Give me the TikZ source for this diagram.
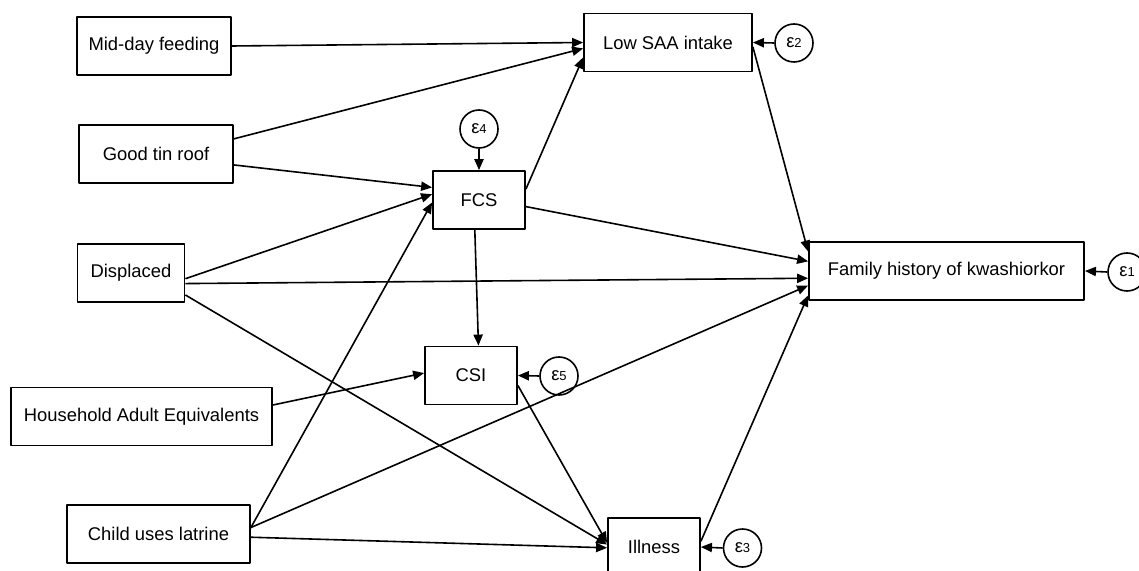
\documentclass[tikz,border=0pt]{standalone}
\usepackage{fontspec}
\setmainfont{Liberation Sans}
\usetikzlibrary{arrows.meta}
\begin{document}
\begin{tikzpicture}[x=0.5pt,y=-0.5pt,>={Triangle[length=5.5pt,width=4.6pt]},
		font=\fontsize{9.2}{11}\selectfont, line join=round,
		var/.style={draw,line width=0.9pt,inner sep=0pt,minimum height=29pt},
		err/.style={draw,circle,line width=0.8pt,minimum size=19pt,inner sep=0pt},
		link/.style={->,line width=0.8pt}]
		\def\sub#1{{\fontsize{6.5}{7}\selectfont#1}} % chỉ số
		\useasboundingbox (0,0) rectangle (1139,571);
		% biến ngoại sinh
		\node[var,minimum width=77pt] (mid) at (154,46) {Mid-day feeding};
		\node[var,minimum width=77pt] (roof) at (156,154) {Good tin roof};
		\node[var,minimum width=53.5pt] (disp) at (131,273) {Displaced};
		\node[var,minimum width=130.5pt] (hae) at (141.5,416.5) {Household Adult Equivalents};
		\node[var,minimum width=91.5pt] (latr) at (158.5,534) {Child uses latrine};
		% biến nội sinh
		\node[var,minimum width=84pt] (saa) at (668,42.5) {Low SAA intake};
		\node[var,minimum width=46pt] (fcs) at (479,200) {FCS};
		\node[var,minimum width=46pt] (csi) at (471,375.5) {CSI};
		\node[var,minimum width=46pt] (ill) at (654,547) {Illness};
		\node[var,minimum width=137.5pt] (fam) at (946.5,271) {Family history of kwashiorkor};
		% sai số
		\node[err] (e1) at (1127,272) {ε\sub{1}};
		\node[err] (e2) at (794,43) {ε\sub{2}};
		\node[err] (e3) at (742.5,548) {ε\sub{3}};
		\node[err] (e4) at (479,129) {ε\sub{4}};
		\node[err] (e5) at (559,376) {ε\sub{5}};
		\foreach \e/\v in {e1/fam,e2/saa,e3/ill,e5/csi}
		\draw[link] (\e.west)--(\v.east);
		\draw[link] (e4.south)--(fcs.north);
		% đường dẫn
		\draw[link] (mid.east)--(saa.west);
		\draw[link] (roof.11)--(saa.184);
		\draw[link] (roof.352)--(fcs.165);
		\draw[link] (disp.354)--(fcs.173);
		\draw[link] (disp.349)--(fam.183);
		\draw[link] (disp.338)--(ill.177.5);
		\draw[link] (hae.5.5)--(csi.177);
		\draw[link] (latr.4.4)--(fcs.183.7);
		\draw[link] (latr.4.4)--(fam.186.6);
		\draw[link] (latr.358)--(ill.181);
		\draw[link] (fcs.13.4)--(saa.190.5);
		\draw[link] (fcs.352.6)--(fam.176.3);
		\draw[link] (fcs.262)--(csi.76);
		\draw[link] (csi.348)--(ill.175);
		\draw[link] (saa.357)--(fam.172);
		\draw[link] (ill.7.4)--(fam.190.7);
		\end{tikzpicture}
\end{document}
